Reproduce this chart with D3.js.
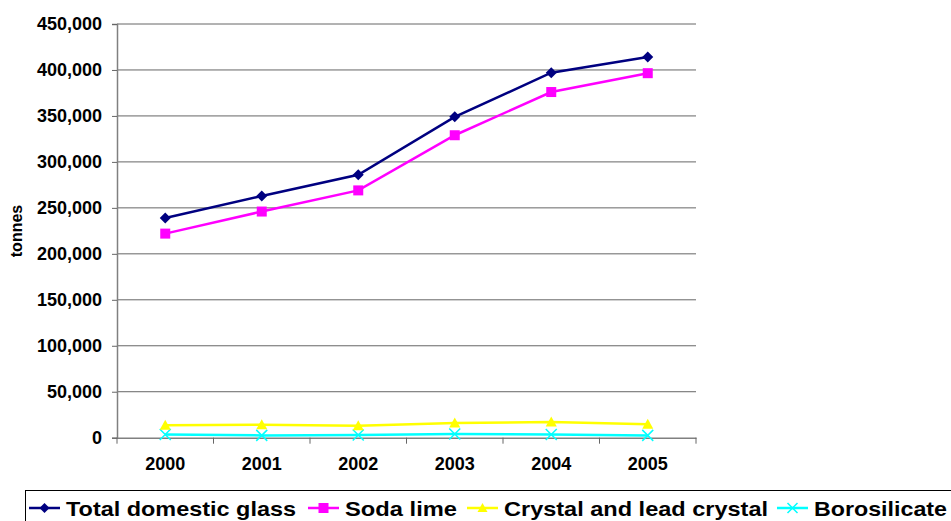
<!DOCTYPE html>
<html><head><meta charset="utf-8">
<script src="https://cdn.jsdelivr.net/npm/d3@7"></script>
<style>body{margin:0;background:#fff}svg{display:block;font-family:"Liberation Sans",Arial,sans-serif}</style>
</head><body><svg id="c" width="951" height="521"></svg>
<script>
const years = ["2000","2001","2002","2003","2004","2005"];
const totalDomestic = [239000, 263000, 286000, 349000, 397000, 414000];
const sodaLime = [222000, 246000, 269000, 329000, 376000, 396500];
const crystalLead = [13500, 14000, 13000, 16000, 17000, 14500];
const borosilicate = [3500, 2500, 3000, 4000, 3500, 2500];
const yTicks = [0,50000,100000,150000,200000,250000,300000,350000,400000,450000];
const seriesNames = ["Total domestic glass","Soda lime","Crystal and lead crystal","Borosilicate"];

const series = [
  {name: seriesNames[0], values: totalDomestic, color: "#000080", sym: "diamond"},
  {name: seriesNames[1], values: sodaLime, color: "#FF00FF", sym: "square"},
  {name: seriesNames[2], values: crystalLead, color: "#FFFF00", sym: "triangle"},
  {name: seriesNames[3], values: borosilicate, color: "#00FFFF", sym: "x"}
];

const svg = d3.select("#c");
const L = 117, R = 696, T = 24, B = 437.7;
const x = d3.scaleBand().domain(years).range([L, R]);
const y = d3.scaleLinear().domain([0, 450000]).range([B, T]);
const FONT = "'Liberation Sans',Arial,sans-serif";

// gridlines
svg.append("g").selectAll("line").data(yTicks.filter(d => d > 0)).join("line")
  .attr("x1", L).attr("x2", R).attr("y1", d => y(d)).attr("y2", d => y(d))
  .attr("stroke", "#666").attr("stroke-width", 1);

// y axis
const yAxis = svg.append("g").attr("transform", `translate(${L},0)`)
  .call(d3.axisLeft(y).tickValues(yTicks).tickSize(5).tickPadding(10).tickFormat(d3.format(",")));
yAxis.select(".domain").attr("stroke", "#808080").attr("stroke-width", 1.5);
yAxis.selectAll(".tick line").attr("stroke", "#666");
yAxis.selectAll("text").attr("font-size", 18).attr("font-weight", "bold").attr("fill", "#000")
  .attr("font-family", FONT);

// x axis
const xAxis = svg.append("g").attr("transform", `translate(0,${B})`)
  .call(d3.axisBottom(x).tickSize(0).tickPadding(20));
xAxis.select(".domain").attr("stroke", "#808080").attr("stroke-width", 1.5);
xAxis.selectAll("text").attr("font-size", 18).attr("font-weight", "bold").attr("fill", "#000")
  .attr("font-family", FONT);
// category boundary ticks
const bounds = years.map(d => x(d)).concat([R]);
svg.append("g").selectAll("line").data(bounds).join("line")
  .attr("x1", d => d).attr("x2", d => d).attr("y1", B).attr("y2", B + 6)
  .attr("stroke", "#666").attr("stroke-width", 1);

// y label
svg.append("text").attr("transform", "translate(22,231) rotate(-90)")
  .attr("text-anchor", "middle").attr("font-size", 16).attr("font-weight", "bold").text("tonnes");

const cx = d => x(d) + x.bandwidth() / 2;
const line = d3.line().x((d, i) => cx(years[i])).y(d => y(d));

function marker(g, sym, color, px, py, s) {
  if (sym === "diamond") {
    g.append("path").attr("d", `M${px},${py - s}L${px + s},${py}L${px},${py + s}L${px - s},${py}Z`).attr("fill", color);
  } else if (sym === "square") {
    g.append("rect").attr("x", px - s).attr("y", py - s).attr("width", 2 * s).attr("height", 2 * s).attr("fill", color);
  } else if (sym === "triangle") {
    g.append("path").attr("d", `M${px},${py - s}L${px + s},${py + s * 0.8}L${px - s},${py + s * 0.8}Z`).attr("fill", color);
  } else {
    g.append("path").attr("d", `M${px - s},${py - s}L${px + s},${py + s}M${px - s},${py + s}L${px + s},${py - s}`)
      .attr("stroke", color).attr("stroke-width", 1.5);
  }
}

// draw back-to-front
[...series].reverse().forEach(s => {
  const g = svg.append("g");
  g.append("path").datum(s.values).attr("d", line).attr("fill", "none")
    .attr("stroke", s.color).attr("stroke-width", 2.5);
  s.values.forEach((v, i) => marker(g, s.sym, s.color, cx(years[i]), y(v), s.sym === "square" ? 5 : 5.5));
});

// legend
const lg = svg.append("g");
lg.append("rect").attr("x", 25.5).attr("y", 490.5).attr("width", 940).attr("height", 40)
  .attr("fill", "#fff").attr("stroke", "#000").attr("stroke-width", 1);
const legX = [29, 308, 467, 777];
const legW = [230, 112, 264, 133];
series.forEach((s, i) => {
  const gx = legX[i], gy = 508;
  lg.append("line").attr("x1", gx).attr("x2", gx + 31).attr("y1", gy).attr("y2", gy)
    .attr("stroke", s.color).attr("stroke-width", 2.5);
  marker(lg, s.sym, s.color, gx + 15.5, gy, s.sym === "square" ? 5 : 5);
  lg.append("text").attr("x", gx + 37).attr("y", gy + 7.5).attr("font-size", 21).attr("font-weight", "bold")
    .attr("textLength", legW[i]).attr("lengthAdjust", "spacingAndGlyphs")
    .text(s.name);
});
</script></body></html>
